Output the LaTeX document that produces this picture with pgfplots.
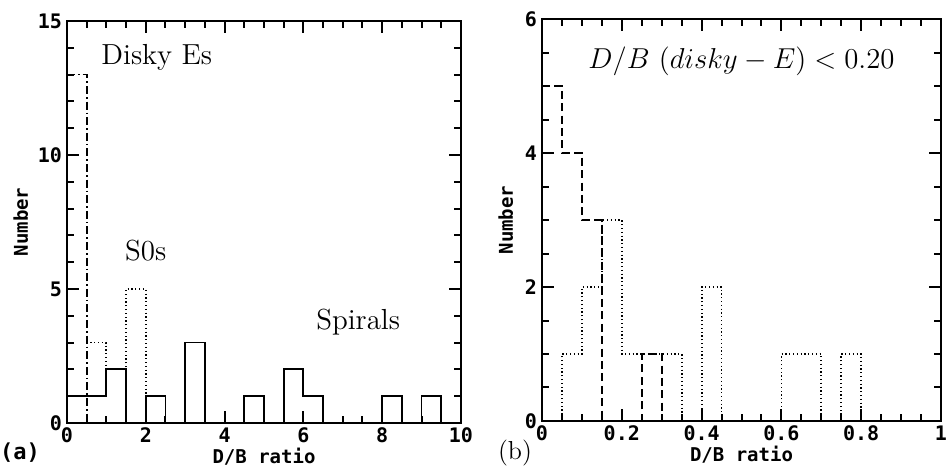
\documentclass[border=0pt]{standalone}
\usepackage{fontspec}
\usepackage{pgfplots}
\pgfplotsset{compat=1.18}
\newfontfamily\monofont{DejaVu Sans Mono}

\tikzset{tk/.style={black, line width=0.9pt}}
\pgfplotsset{
  hist/.style={
    scale only axis,
    anchor=south west,
    axis line style={line width=0.9pt},
    every tick/.style={black, line width=1pt},
    major tick length=6pt,
    minor tick length=3.5pt,
    tick align=inside,
    ymin=0,
    /pgf/number format/assume math mode=true,
    tick label style={font=\monofont\bfseries\fontsize{10}{11}\selectfont},
    label style={font=\monofont\bfseries\fontsize{9.5}{10}\selectfont},
    xlabel={D/B ratio},
    ylabel={Number},
    xticklabel style={yshift=1pt},
    yticklabel style={xshift=1pt},
    xlabel style={yshift=4.5pt},
    every axis plot/.append style={const plot mark left, no marks, line width=0.9pt, black},
  },
  dsh/.style={dash pattern=on 4pt off 2.2pt},
  dot/.style={dash pattern=on 0.6pt off 1.3pt},
}

\begin{document}
\begin{tikzpicture}
\path[use as bounding box] (0,0) rectangle (474.5pt,233pt);

\begin{axis}[hist,
  at={(33.5pt,21.5pt)}, width=197pt, height=201pt,
  xmin=0, xmax=10, ymax=15,
  xtick={0,2,...,10}, ytick={0,5,10,15},
  minor xtick={0.5,1,...,9.5}, minor ytick={1,...,14},
  ylabel style={yshift=-2pt},
]
  % S0s
  \addplot[black,dot] coordinates {(0.5,3) (1,2) (1.5,5) (2,1) (2.5,0)};
  % disky Es
  \addplot[black,dash pattern=on 4pt off 1.5pt on 0.8pt off 1.5pt] coordinates {(0,13) (0.5,0)};
  % spirals
  \addplot[black,solid] coordinates {(0,1) (0.5,1) (1,2) (1.5,0) (2,1) (2.5,0) (3,3) (3.5,0)
    (4.5,1) (5,0) (5.5,2) (6,1) (6.5,0) (8,1) (8.5,0) (9,1) (9.5,0)};
  % tick marks on all four sides
  \pgfplotsinvokeforeach{0.5,1,...,9.5}{
    \draw[tk] (axis cs:#1,0) -- ++(0,3.5pt);
    \draw[tk] (axis cs:#1,15) -- ++(0,-3.5pt);}
  \pgfplotsinvokeforeach{2,4,6,8}{
    \draw[tk] (axis cs:#1,0) -- ++(0,6pt);
    \draw[tk] (axis cs:#1,15) -- ++(0,-6pt);}
  \pgfplotsinvokeforeach{1,...,14}{
    \draw[tk] (axis cs:0,#1) -- ++(3.5pt,0);
    \draw[tk] (axis cs:10,#1) -- ++(-3.5pt,0);}
  \pgfplotsinvokeforeach{5,10}{
    \draw[tk] (axis cs:0,#1) -- ++(6pt,0);
    \draw[tk] (axis cs:10,#1) -- ++(-6pt,0);}
  \node[font=\fontsize{14.5}{16}\selectfont] at (axis cs:2.28,13.66) {Disky Es};
  \node[font=\fontsize{14.5}{16}\selectfont] at (axis cs:2.0,6.42) {S0s};
  \node[font=\fontsize{14.5}{16}\selectfont] at (axis cs:7.39,3.77) {Spirals};
\end{axis}

\begin{axis}[hist,
  at={(271pt,22.5pt)}, width=199.5pt, height=201pt,
  xmin=0, xmax=1, ymax=6,
  xtick={0,0.2,0.4,0.6,0.8,1}, ytick={0,2,4,6},
  xticklabels={0,0.2,0.4,0.6,0.8,1},
  minor xtick={0.05,0.1,0.15,0.25,0.3,0.35,0.45,0.5,0.55,0.65,0.7,0.75,0.85,0.9,0.95},
  minor ytick={0.5,1,1.5,2.5,3,3.5,4.5,5,5.5},
  ylabel style={yshift=-1pt},
]
  \addplot[black,dot] coordinates {(0,0) (0.05,1) (0.1,2) (0.15,3) (0.2,1) (0.35,0)
    (0.4,2) (0.45,0) (0.6,1) (0.7,0) (0.75,1) (0.8,0)};
  \addplot[black,dsh] coordinates {(0,5) (0.05,4) (0.1,3) (0.15,0) (0.25,1) (0.3,0)};
  \pgfplotsinvokeforeach{0.05,0.1,0.15,0.25,0.3,0.35,0.45,0.5,0.55,0.65,0.7,0.75,0.85,0.9,0.95}{
    \draw[tk] (axis cs:#1,0) -- ++(0,3.5pt);
    \draw[tk] (axis cs:#1,6) -- ++(0,-3.5pt);}
  \pgfplotsinvokeforeach{0.2,0.4,0.6,0.8}{
    \draw[tk] (axis cs:#1,0) -- ++(0,6pt);
    \draw[tk] (axis cs:#1,6) -- ++(0,-6pt);}
  \pgfplotsinvokeforeach{0.5,1,1.5,2.5,3,3.5,4.5,5,5.5}{
    \draw[tk] (axis cs:0,#1) -- ++(3.5pt,0);
    \draw[tk] (axis cs:1,#1) -- ++(-3.5pt,0);}
  \pgfplotsinvokeforeach{2,4}{
    \draw[tk] (axis cs:0,#1) -- ++(6pt,0);
    \draw[tk] (axis cs:1,#1) -- ++(-6pt,0);}
  \node[font=\fontsize{14}{15}\selectfont] at (axis cs:0.5,5.37) {$D/B\ (disky - E) < 0.20$};
\end{axis}

\node[font=\monofont\bfseries\fontsize{11}{12}\selectfont] at (10pt,6.5pt) {(a)};
\node[font=\fontsize{13}{14}\selectfont] at (257.5pt,6.5pt) {(b)};
\end{tikzpicture}
\end{document}
